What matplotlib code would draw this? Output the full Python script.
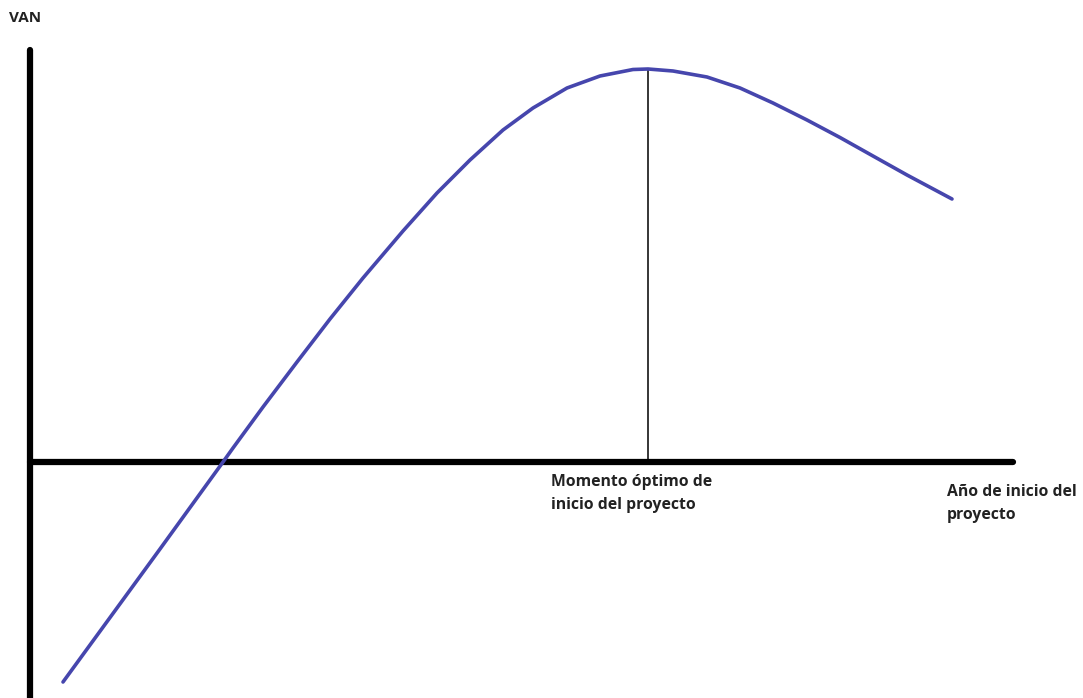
import matplotlib.pyplot as plt

plt.rcParams.update({'font.family': ['Open Sans', 'DejaVu Sans']})

# curve of VAN against project start year (x: start position, y: VAN)
x_start = [33, 130, 193, 203, 233, 267, 300, 333, 373, 407, 440, 473, 503, 537,
           570, 603, 618, 643, 677, 710, 743, 777, 810, 843, 877, 922]
van = [-220, -87, 0, 14, 55, 100, 143, 184, 231, 269, 302, 332, 354, 374,
       386, 392.5, 393, 391, 385, 374, 359, 342, 324.5, 306, 287, 263]

x_optimo = 618
van_max = 393
x_axis_end = 983
y_axis_top = 412

fig = plt.figure(figsize=(10.83, 6.98), dpi=100)
ax = fig.add_axes([0, 0, 1, 1])
ax.set_xlim(-30, 1053)
ax.set_ylim(-236, 462)
ax.axis('off')

# axes drawn as thick black lines
ax.plot([0, 0], [-260, y_axis_top], color='black', lw=4.5, solid_capstyle='round')
ax.plot([0, x_axis_end], [0, 0], color='black', lw=4.5, solid_capstyle='round')

# optimum marker
ax.plot([x_optimo, x_optimo], [0, van_max], color='black', lw=1.1)

ax.plot(x_start, van, color='#4646ad', lw=2.6, solid_capstyle='round', solid_joinstyle='round')

ax.text(-21, 451, 'VAN', fontsize=11, fontweight='bold', color='#222222', va='top')
ax.text(521, -12, 'Momento óptimo de\ninicio del proyecto', fontsize=11.3, fontweight='bold',
        color='#222222', va='top', linespacing=1.55)
ax.text(917, -22, 'Año de inicio del\nproyecto', fontsize=11.3, fontweight='bold',
        color='#222222', va='top', linespacing=1.55)

fig.savefig('out.png', dpi=100)
